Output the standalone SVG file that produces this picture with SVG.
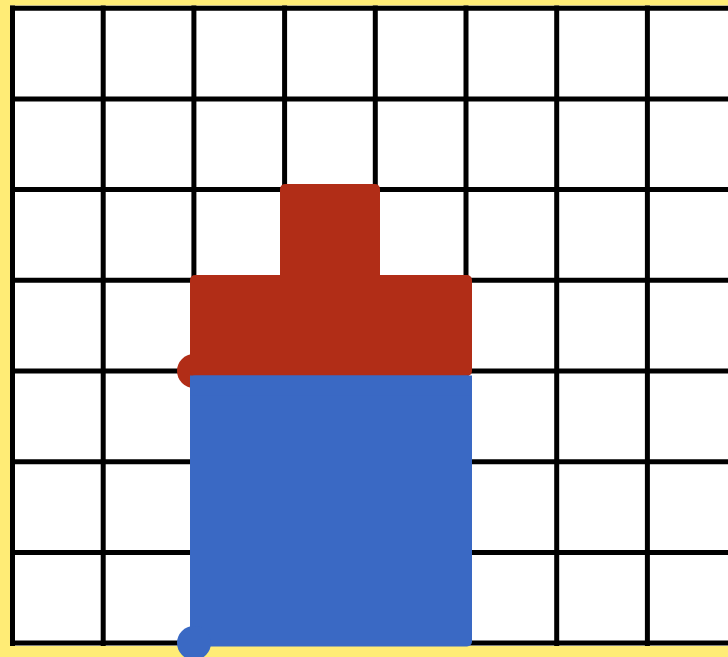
<svg xmlns="http://www.w3.org/2000/svg" width="728" height="657" viewBox="0 0 728 657">
  <style>
    .grid line { stroke: #000; stroke-width: 5; }
    .red { fill: #B12D17; }
    .blue { fill: #3A69C4; }
  </style>
  <rect x="0" y="0" width="728" height="657" fill="#FFEC76"/>
  <rect x="10" y="5.5" width="730" height="640.5" fill="#fff"/>
  <g id="grid" class="grid">
    <line x1="12.5" y1="5.5" x2="12.5" y2="646"/>
    <line x1="103.2" y1="5.5" x2="103.2" y2="646"/>
    <line x1="193.9" y1="5.5" x2="193.9" y2="646"/>
    <line x1="284.6" y1="5.5" x2="284.6" y2="646"/>
    <line x1="375.3" y1="5.5" x2="375.3" y2="646"/>
    <line x1="466" y1="5.5" x2="466" y2="646"/>
    <line x1="556.7" y1="5.5" x2="556.7" y2="646"/>
    <line x1="647.4" y1="5.5" x2="647.4" y2="646"/>
    <line x1="10" y1="8.2" x2="728" y2="8.2"/>
    <line x1="10" y1="98.9" x2="728" y2="98.9"/>
    <line x1="10" y1="189.6" x2="728" y2="189.6"/>
    <line x1="10" y1="280.3" x2="728" y2="280.3"/>
    <line x1="10" y1="371" x2="728" y2="371"/>
    <line x1="10" y1="461.7" x2="728" y2="461.7"/>
    <line x1="10" y1="552.4" x2="728" y2="552.4"/>
    <line x1="10" y1="643.1" x2="728" y2="643.1"/>
  </g>
  <g id="red-shape" class="red">
    <circle cx="194" cy="371" r="17"/>
    <rect x="280" y="184" width="100" height="110" rx="5"/>
    <rect x="190" y="275" width="282" height="101" rx="5"/>
  </g>
  <g id="blue-shape" class="blue">
    <rect x="190" y="375.5" width="282" height="271" rx="5"/>
    <rect x="190" y="375.5" width="282" height="20"/>
    <circle cx="194" cy="643" r="17"/>
  </g>
</svg>
